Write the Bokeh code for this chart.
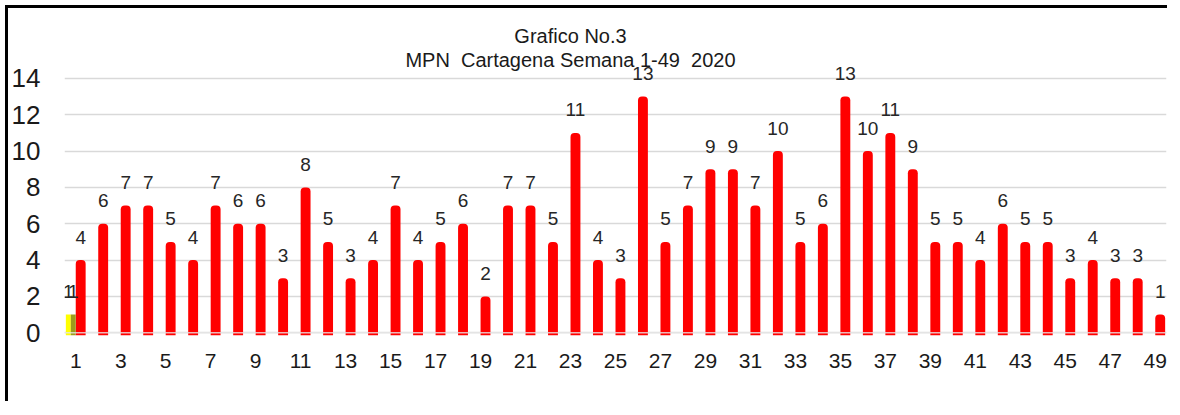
from bokeh.plotting import figure
from bokeh.models import (ColumnDataSource, Range1d, FixedTicker, Label, Span)
from bokeh.transform import dodge
from bokeh.core.properties import value
from bokeh.embed import file_html
from bokeh.resources import INLINE

# ---- data ----
semanas = list(range(1, 50))
casos = [4, 6, 7, 7, 5, 4, 7, 6, 6, 3,
         8, 5, 3, 4, 7, 4, 5, 6, 2, 7,
         7, 5, 11, 4, 3, 13, 5, 7, 9, 9,
         7, 10, 5, 6, 13, 10, 11, 9, 5, 5,
         4, 6, 5, 5, 3, 4, 3, 3, 1]
semana_amarilla = [1]
valor_amarilla = [1]
semana_oliva = [1]
valor_oliva = [1]
x_ticks = list(range(1, 50, 2))
y_ticks = list(range(0, 15, 2))
titulo_1 = "Grafico No.3"
titulo_2 = "MPN\u00a0 Cartagena Semana 1-49\u00a0 2020"

FONT = "Liberation Sans"

src = ColumnDataSource(dict(x=semanas, y=casos, t=[str(v) for v in casos]))
src_a = ColumnDataSource(dict(x=semana_amarilla, y=valor_amarilla, t=[str(v) for v in valor_amarilla]))
src_o = ColumnDataSource(dict(x=semana_oliva, y=valor_oliva, t=[str(v) for v in valor_oliva]))

p = figure(width=1162, height=396, x_range=Range1d(0.5, 49.5), y_range=Range1d(-0.15, 17.3),
           output_backend="svg", toolbar_location=None,
           min_border_left=56, min_border_right=4, min_border_top=10, min_border_bottom=69,
           styles={"box-shadow": "-3px -3px 0px 0px black",
                   "margin-left": "8px", "margin-top": "8px"})
p.outline_line_color = None
p.background_fill_color = "white"
p.border_fill_color = "white"

# grid
p.xgrid.visible = False
p.ygrid.ticker = FixedTicker(ticks=y_ticks)
p.ygrid.grid_line_color = "#d9d9d9"
p.ygrid.grid_line_width = 1.5

# axes
p.yaxis.ticker = FixedTicker(ticks=y_ticks)
p.yaxis.axis_line_color = None
p.yaxis.major_tick_line_color = None
p.yaxis.minor_tick_line_color = None
p.yaxis.major_label_text_font = FONT
p.yaxis.major_label_text_font_size = "26px"
p.yaxis.major_label_text_color = "#1a1a1a"
p.yaxis.major_label_standoff = 18

p.xaxis.ticker = FixedTicker(ticks=x_ticks)
p.xaxis.axis_line_color = None
p.xaxis.major_tick_line_color = None
p.xaxis.minor_tick_line_color = None
p.xaxis.major_label_text_font = FONT
p.xaxis.major_label_text_font_size = "21px"
p.xaxis.major_label_text_color = "#1a1a1a"
p.xaxis.major_label_standoff = 12

# bars
p.vbar(x=dodge("x", 0.22, range=p.x_range), top="y", bottom=-0.15, width=0.44, source=src,
       fill_color="#ff0000", line_color=None, border_radius=(4, 4, 0, 0))
p.vbar(x=dodge("x", -0.33, range=p.x_range), top="y", bottom=-0.15, width=0.22, source=src_a,
       fill_color="#ffff00", line_color=None)
p.vbar(x=dodge("x", -0.11, range=p.x_range), top="y", bottom=-0.15, width=0.22, source=src_o,
       fill_color="#9c9c1c", line_color=None)

# zero line over bars
p.add_layout(Span(location=0, dimension="width", line_color="#e6e6e6", line_alpha=0.8,
                  line_width=1.5, level="overlay"))

# data labels
lbl = dict(text="t", text_font=value(FONT), text_font_size="19px", text_color="#262626",
           text_align="center", text_baseline="alphabetic", y_offset=-23)
p.text(x=dodge("x", 0.22, range=p.x_range), y="y", source=src, **lbl)
p.text(x=dodge("x", -0.33, range=p.x_range), y="y", source=src_a, **lbl)
p.text(x=dodge("x", -0.11, range=p.x_range), y="y", source=src_o, **lbl)

# titles (screen units relative to the plot frame)
for txt, sy in ((titulo_1, 300), (titulo_2, 276)):
    p.add_layout(Label(x=506, y=sy, x_units="screen", y_units="screen", text=txt,
                       text_font=FONT, text_font_size="20px", text_color="#1a1a1a",
                       text_align="center", text_baseline="middle"))

open("out.html", "w").write(file_html(p, INLINE))
